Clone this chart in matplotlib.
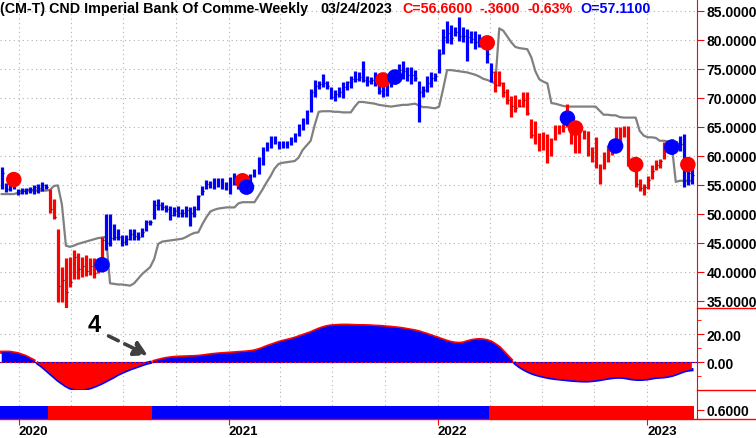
import numpy as np
import pandas as pd
import matplotlib
matplotlib.use("Agg")
import matplotlib.pyplot as plt
import matplotlib.dates as mdates
from matplotlib.lines import Line2D

plt.rcParams['font.family'] = ['Liberation Sans', 'DejaVu Sans']
plt.rcParams['font.weight'] = 'bold'

# ---- weekly bars ----
dates = pd.date_range('2019-12-02', periods=173, freq='W-MON')

high = [58.0, 55.3, 55.8, 55.8, 54.3, 54.5, 54.5, 54.6, 54.9, 55.1, 55.4, 55.1,
        54.3, 52.6, 47.4, 40.9, 42.3, 42.6, 43.8, 43.3, 42.6, 42.9, 42.3, 42.3, 41.8, 46.0,
        49.9, 49.9, 48.3, 47.4, 46.3, 46.3, 47.3, 47.3, 46.9, 47.6, 49.0, 49.0, 52.4, 52.6,
        52.0, 51.6, 51.4, 51.1, 51.4, 50.8, 51.3, 51.1, 51.4, 53.2, 54.8, 55.9, 55.7, 56.2,
        56.2, 56.2, 55.5, 56.3, 57.0, 56.6, 56.6, 56.3, 56.9, 57.8, 59.8, 61.6, 62.4, 63.5,
        63.5, 62.6, 62.5, 62.6, 63.3, 63.9, 65.5, 66.6, 67.9, 71.6, 73.1, 73.0, 74.1, 73.0,
        71.8, 71.3, 71.8, 72.8, 73.0, 73.7, 74.7, 74.4, 76.4, 73.7, 73.6, 74.4, 73.7, 73.0,
        73.3, 74.4, 74.3, 75.9, 76.4, 75.3, 75.3, 74.8, 73.0, 72.1, 73.7, 74.4, 74.3, 78.4,
        81.9, 83.2, 82.6, 82.2, 83.9, 82.3, 81.9, 81.5, 81.6, 81.0, 80.5, 79.3, 76.1,
        74.7, 74.6, 72.7, 71.6, 70.4, 70.5, 69.8, 71.0, 71.1, 66.4, 66.0, 63.9, 64.1, 63.8,
        63.1, 65.4, 65.4, 65.5, 68.9, 64.9, 64.4, 64.4, 64.4, 64.3, 61.6, 63.2, 58.6, 60.6,
        61.8, 62.7, 64.9, 64.9, 65.2, 65.2, 59.5, 57.5, 56.0, 55.2, 56.6, 58.5, 59.3, 59.5,
        62.4, 62.6, 62.9, 62.6, 63.5, 63.7, 58.3, 58.3]
low = [54.2, 53.7, 54.0, 54.3, 53.3, 53.5, 53.5, 53.6, 53.5, 53.6, 54.0, 54.3,
       50.1, 49.1, 34.7, 34.7, 33.7, 37.4, 38.7, 38.7, 39.1, 39.3, 39.4, 38.9, 39.8, 41.7,
       43.7, 44.4, 45.4, 45.4, 44.4, 44.6, 45.4, 45.5, 45.4, 46.0, 47.0, 48.0, 49.1, 50.6,
       50.6, 50.3, 49.0, 49.7, 49.4, 49.5, 49.4, 47.9, 49.4, 50.7, 53.3, 54.3, 54.5, 54.3,
       54.7, 54.3, 54.1, 53.4, 54.9, 54.3, 54.3, 54.0, 55.3, 56.3, 56.9, 58.5, 60.9, 61.4,
       62.1, 61.2, 61.4, 61.4, 61.8, 62.4, 63.5, 64.4, 65.5, 67.5, 70.1, 71.6, 71.8, 71.6,
       69.8, 69.5, 70.2, 69.9, 71.4, 71.7, 72.7, 73.0, 72.7, 72.1, 72.4, 72.1, 70.7, 70.1,
       70.4, 71.8, 72.4, 73.0, 73.3, 73.0, 72.4, 73.0, 65.8, 70.1, 71.0, 71.8, 73.0, 74.3,
       77.6, 79.4, 79.3, 80.6, 79.9, 79.6, 76.3, 79.4, 78.4, 78.7, 78.7, 76.1, 72.7,
       71.1, 72.1, 70.1, 69.0, 66.7, 67.6, 68.4, 68.4, 67.0, 63.1, 62.0, 60.9, 61.0, 58.7,
       59.9, 62.8, 63.7, 64.1, 64.9, 62.1, 60.5, 60.5, 62.9, 59.9, 59.0, 57.9, 55.1, 57.8,
       58.9, 60.1, 61.5, 62.4, 63.2, 58.3, 57.5, 54.7, 54.0, 53.2, 54.3, 56.0, 57.5, 57.9,
       59.5, 60.9, 60.3, 61.5, 60.9, 54.7, 54.9, 55.2]
close = [57.0, 54.2, 55.0, 55.2, 53.6, 54.0, 54.2, 54.2, 54.6, 54.4, 55.0, 54.6,
         50.8, 49.5, 37.5, 38.5, 36.5, 38.2, 42.5, 40.5, 41.0, 40.2, 41.0, 39.8, 41.2, 45.5,
         45.0, 45.8, 46.0, 46.0, 45.2, 45.6, 46.5, 46.2, 46.0, 46.8, 48.6, 48.5, 51.5, 51.5,
         51.2, 50.8, 49.8, 50.4, 50.2, 50.2, 50.6, 50.2, 50.8, 53.0, 54.0, 55.2, 55.0, 55.3,
         55.4, 55.0, 54.5, 55.6, 55.5, 55.2, 55.5, 55.3, 56.2, 57.4, 59.2, 61.1, 61.8, 62.3,
         62.4, 61.6, 62.0, 62.5, 62.8, 63.7, 65.0, 65.9, 67.5, 71.0, 72.0, 72.4, 72.6, 72.0,
         70.2, 70.6, 71.0, 71.8, 72.8, 73.2, 73.3, 73.6, 73.1, 72.9, 73.1, 73.6, 71.2, 72.3,
         72.8, 73.2, 74.0, 74.8, 74.6, 74.0, 74.0, 73.4, 71.0, 71.4, 72.6, 73.5, 73.8, 77.6,
         80.5, 81.2, 80.3, 81.3, 80.6, 80.6, 80.5, 80.2, 79.6, 79.6, 79.5, 77.5, 74.4,
         72.2, 72.5, 71.1, 69.6, 68.6, 68.3, 68.6, 69.6, 67.4, 63.6, 63.5, 62.0, 62.4, 59.4,
         62.0, 64.0, 64.5, 64.3, 65.6, 63.5, 61.0, 63.3, 63.2, 60.3, 59.6, 58.8, 56.8, 58.5,
         60.0, 61.2, 62.5, 63.3, 64.6, 59.0, 58.0, 55.2, 54.5, 54.6, 55.9, 57.3, 58.4, 59.1,
         60.8, 61.7, 61.5, 62.2, 62.0, 57.6, 57.0, 56.66]

# trailing stop (gray line)
stop = [53.4, 53.4, 53.4, 53.4, 53.6, 54.0, 54.0, 54.0, 54.0, 54.0, 54.0, 54.0,
        54.1, 54.8, 54.9, 51.6, 44.5, 44.3, 44.5, 44.8, 45.0, 45.2, 45.4, 45.6, 45.8, 45.9,
        46.0, 38.0, 37.9, 37.8, 37.8, 37.7, 37.6, 38.0, 38.8, 39.6, 40.2, 40.8, 42.2, 44.8,
        45.2, 45.3, 45.4, 45.5, 45.6, 45.7, 46.0, 46.4, 46.7, 46.8, 48.2, 49.4, 50.4, 50.7,
        50.9, 51.0, 51.1, 51.1, 51.1, 51.8, 52.0, 52.0, 52.0, 52.0, 53.1, 54.2, 55.4, 56.5,
        57.8, 58.6, 58.8, 58.9, 59.0, 59.1, 59.7, 61.0, 61.8, 62.6, 65.3, 67.6, 67.7, 67.7,
        67.7, 67.6, 67.6, 67.5, 67.5, 67.5, 68.5, 69.3, 69.3, 69.2, 69.1, 69.0, 68.8, 68.7,
        68.6, 68.5, 68.6, 68.7, 68.8, 68.8, 68.9, 69.0, 68.7, 68.4, 68.4, 68.3, 68.2, 68.5,
        71.5, 74.8, 74.8, 74.7, 74.6, 74.5, 74.4, 74.2, 74.0, 73.7, 73.3, 73.1, 72.8,
        72.5, 82.0, 81.6, 80.6, 79.6, 78.8, 78.6, 78.5, 78.4, 77.0, 74.6, 73.2, 72.8, 72.5,
        69.1, 69.0, 68.8, 68.6, 68.5, 68.5, 68.5, 68.5, 68.5, 68.5, 68.5, 68.5, 67.8, 67.1,
        67.1, 67.0, 67.0, 66.7, 66.6, 66.6, 66.6, 66.6, 64.3, 63.5, 63.2, 63.2, 63.1, 62.6,
        62.6, 62.5, 61.8, 55.5, 55.7, 55.7, 55.7, 55.7]

# oscillator (lower panel)
osc = [7, 7, 7, 6.5, 6, 5, 4, 2.5, 1, -1, -3, -5.5,
       -8, -10.5, -13, -15, -17, -18.5, -19.3, -19.6, -19.6, -19.2, -18.5, -17.5, -16.3, -15,
       -13.5, -12, -10.5, -8.8, -7.5, -6.2, -5, -4, -3, -2, -1, -0.3, 0.5, 1.3,
       2, 2.6, 3, 3.3, 3.5, 3.6, 3.7, 3.8, 3.9, 4.1, 4.4, 4.8, 5.2, 5.5,
       5.8, 6, 6.2, 6.4, 6.6, 6.8, 7, 7.2, 7.5, 8, 8.8, 9.8, 11, 12,
       13, 14, 14.8, 15.5, 16.2, 17, 18, 19, 20, 21, 22.3, 23.5, 24.5, 25.3,
       25.8, 26, 26.2, 26.3, 26.3, 26.2, 26.1, 26, 26, 25.9, 25.8, 25.6, 25.5, 25.3,
       25, 24.8, 24.5, 24.2, 23.8, 23.3, 22.8, 22.3, 21.6, 20.7, 19.8, 18.8, 17.8, 16.8,
       15.8, 14.8, 14, 13.5, 13.3, 13.6, 14.5, 15.3, 15.8, 16, 15.8, 15.3, 14.3,
       12.5, 10.5, 7.5, 4.5, 1.5, -1, -3.2, -5, -6.5, -7.8, -8.8, -9.6, -10.3, -10.9,
       -11.4, -11.8, -12.1, -12.4, -12.7, -13, -13.2, -13.4, -13.5, -13.5, -13.3, -13, -12.6, -12.1,
       -11.6, -11.2, -10.9, -10.8, -11, -11.5, -12, -12.3, -12.4, -12.3, -12, -11.5, -11, -10.8,
       -10.6, -10.2, -9.6, -8.7, -7.6, -6.5, -5.8, -5.5]

# signal dots: bar number, price, colour
dot_bar = [4, 26, 61, 62, 96, 99, 122, 142, 144, 154, 159, 168, 172]
dot_price = [55.9, 41.2, 55.7, 54.6, 73.1, 73.6, 79.5, 66.5, 64.8, 61.7, 58.5, 61.5, 58.5]
dot_color = ['red', 'blue', 'red', 'blue', 'red', 'blue', 'red', 'blue', 'red', 'blue', 'red', 'blue', 'red']

# bar colour runs: first bar number of each run
bar_runs = [1, 13, 27, 124, 168]
bar_run_color = ['blue', 'red', 'blue', 'red', 'blue']
strip_runs = [1, 13, 39, 123]
strip_run_color = ['blue', 'red', 'blue', 'red']

RED = '#ff0000'
BLUE = '#0000ff'
cmap = {'red': RED, 'blue': BLUE}


def run_colors(starts, colors, n):
    out = []
    for k in range(len(starts)):
        end = starts[k + 1] - 1 if k + 1 < len(starts) else n
        out += [cmap[colors[k]]] * (end - starts[k] + 1)
    return out


n = len(dates)
x = mdates.date2num(dates)
high, low, close = np.array(high), np.array(low), np.array(close)
osc = np.array(osc)
bar_col = run_colors(bar_runs, bar_run_color, n)
strip_col = run_colors(strip_runs, strip_run_color, n)

W, H = 756, 439


def box(x0, y0, x1, y1):
    return [x0 / W, 1 - y1 / H, (x1 - x0) / W, (y1 - y0) / H]


fig = plt.figure(figsize=(W / 100, H / 100), dpi=100)
ax = fig.add_axes(box(0, 0, 697, 309))
ax2 = fig.add_axes(box(0, 309, 697, 391), sharex=ax)
ax3 = fig.add_axes(box(0, 391, 697, 420), sharex=ax)

xmin = mdates.date2num(pd.Timestamp('2019-11-29'))
xmax = mdates.date2num(pd.Timestamp('2023-03-29'))
quarters = pd.date_range('2019-10-01', '2023-04-01', freq='QS')
grid_kw = dict(color='#b0b0b0', lw=0.8, ls=(0, (1, 3)), zorder=0)

for a in (ax, ax2, ax3):
    for s in ('top', 'bottom', 'left'):
        a.spines[s].set_visible(False)
    a.spines['right'].set_color(RED)
    a.yaxis.tick_right()
    a.tick_params(axis='y', which='both', colors=RED, labelcolor='black', labelsize=10, pad=2)
    a.tick_params(axis='y', which='major', length=5)
    a.tick_params(axis='y', which='minor', length=3)
    for q in quarters:
        a.axvline(mdates.date2num(q), **grid_kw)
    a.set_facecolor('white')

# ---- price panel ----
for p in range(35, 90, 5):
    ax.axhline(p, **grid_kw)
ax.plot(x, stop, color='#808080', lw=1.6, zorder=2)
ax.vlines(x, low, high, colors=bar_col, lw=2.3, zorder=3)
ax.hlines(close, x + 2.0, x + 3.2, colors='black', lw=0.9, zorder=3)
ax.scatter(x[np.array(dot_bar) - 1], dot_price, s=125,
           c=[cmap[c] for c in dot_color], zorder=4, linewidths=0)
ax.set_ylim(33.74, 87.07)
ax.set_yticks(np.arange(35, 90, 5))
ax.yaxis.set_major_formatter(plt.FormatStrFormatter('%.4f'))
ax.set_xlim(xmin, xmax)
ax.tick_params(axis='x', bottom=False, labelbottom=False)

# header text
hy = 1 - 9 / H
fig.text(0 / W, hy, '(CM-T) CND Imperial Bank Of Comme-Weekly', fontsize=10.3,
         color='black', va='center', ha='left')
fig.text(320 / W, hy, '03/24/2023', fontsize=10.3, color='black', va='center')
fig.text(402 / W, hy, 'C=56.6600', fontsize=10.3, color=RED, va='center')
fig.text(480 / W, hy, '-.3600', fontsize=10.3, color=RED, va='center')
fig.text(528 / W, hy, '-0.63%', fontsize=10.3, color=RED, va='center')
fig.text(580 / W, hy, 'O=57.1100', fontsize=10.3, color=BLUE, va='center')

# ---- oscillator panel ----
ax2.axhline(20, **grid_kw)
osc_pos = np.where(osc >= 0, osc, np.nan)
osc_neg = np.where(osc <= 0, osc, np.nan)
ax2.plot(x, osc_pos, color=RED, lw=2.4, zorder=1.5)
ax2.plot(x, osc_neg, color=BLUE, lw=2.4, zorder=1.5)
ax2.fill_between(x, 0, osc, where=osc >= 0, interpolate=True, color=BLUE, lw=0, zorder=2)
ax2.fill_between(x, 0, osc, where=osc < 0, interpolate=True, color=RED, lw=0, zorder=2)
ax2.axhline(0, color=BLUE, lw=0.8, zorder=3)
ax2.axhline(0, color=RED, lw=0.8, ls=(0, (2, 2)), zorder=3)
ax2.set_ylim(-20, 38.6)
ax2.set_yticks([0, 20])
ax2.set_yticks([-10, 10, 30], minor=True)
ax2.yaxis.set_major_formatter(plt.FormatStrFormatter('%.2f'))
ax2.tick_params(axis='x', which='both', bottom=False, labelbottom=False)
ax2.annotate('', xy=(x[37], 4.0), xytext=(x[26], 19.5),
             arrowprops=dict(arrowstyle='-|>,head_length=0.8,head_width=0.45',
                             color='#404040', lw=2.6, ls=(0, (3, 2))), zorder=5)
ax2.text(x[23], 27, '4', fontsize=17, color='black', ha='center', va='center', zorder=5)

# ---- state strip ----
ax3.bar(x, 0.6, width=7.05, bottom=0, color=strip_col, lw=0, align='center')
ax3.set_ylim(0, 1.35)
ax3.set_yticks([0.42])
ax3.set_yticklabels(['0.6000'])
ax3.xaxis.set_major_locator(mdates.YearLocator())
ax3.xaxis.set_major_formatter(mdates.DateFormatter('%Y'))
ax3.tick_params(axis='x', colors=RED, labelcolor='black', length=4, labelsize=9.5, pad=0)
for lab in ax3.get_xticklabels():
    lab.set_ha('left')

# separator lines on the price scale side
for yy, x0 in ((309, 697), (391, 697), (420, 0)):
    fig.add_artist(Line2D([x0 / W, 1], [1 - yy / H] * 2, color=RED, lw=1,
                          transform=fig.transFigure))

fig.savefig('out.png', dpi=100)
